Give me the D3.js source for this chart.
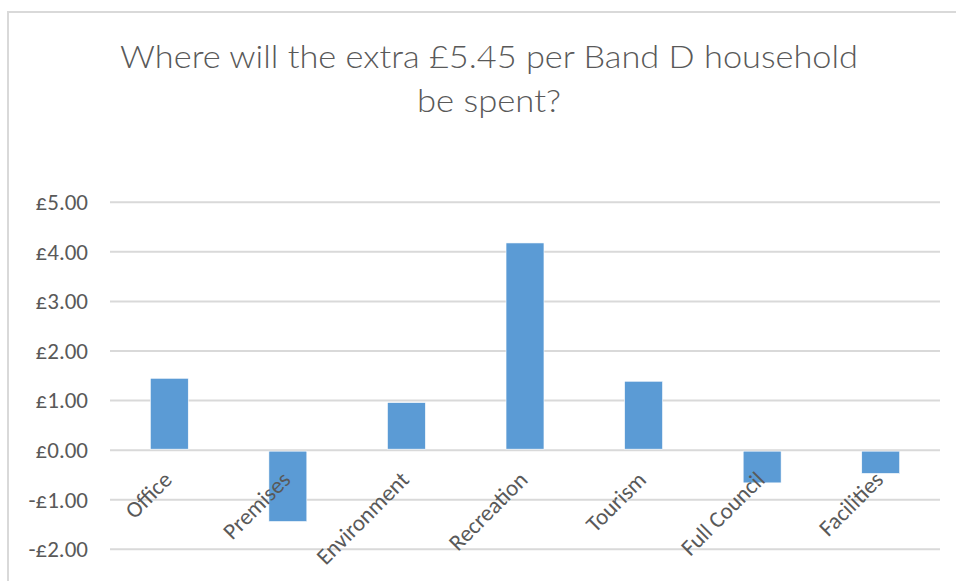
<!DOCTYPE html>
<html>
<head>
<meta charset="utf-8">
<script src="https://cdn.jsdelivr.net/npm/d3@7/dist/d3.min.js"></script>
<style>
  html, body { margin: 0; padding: 0; background: #fff; }
  svg { display: block; }
  text { font-family: Calibri, Carlito, Lato, "Open Sans", sans-serif; fill: #595959; }
  .title { font-family: "Calibri Light", Lato, Carlito, sans-serif; font-weight: 300; }
</style>
</head>
<body>
<script>
const titleLines = ["Where will the extra £5.45 per Band D household", "be spent?"];
const categories = ["Office", "Premises", "Environment", "Recreation", "Tourism", "Full Council", "Facilities"];
const values = [1.45, -1.44, 0.96, 4.18, 1.39, -0.66, -0.47];
const yTicks = [-2, -1, 0, 1, 2, 3, 4, 5];

const W = 956, H = 581;
const svg = d3.select("body").append("svg").attr("width", W).attr("height", H);

// chart border
svg.append("rect")
  .attr("x", 8).attr("y", 12).attr("width", W + 20).attr("height", H + 20)
  .attr("fill", "none").attr("stroke", "#d9d9d9").attr("stroke-width", 2);

// title
const titleY = [68, 112];
const titleW = [738, 144];
titleLines.forEach((t, i) => {
  svg.append("text")
    .attr("class", "title")
    .attr("x", 489).attr("y", titleY[i])
    .attr("text-anchor", "middle")
    .attr("font-size", 32)
    .attr("textLength", titleW[i]).attr("lengthAdjust", "spacingAndGlyphs")
    .text(t);
});

const x = d3.scaleBand().domain(categories).range([110, 940]).paddingInner(0.68).paddingOuter(0.34);
const y = d3.scaleLinear().domain([-2, 5]).range([549.3, 202.3]);

const fmt = v => (v < 0 ? "-£" : "£") + Math.abs(v).toFixed(2);

// y labels via axis
const yAxis = d3.axisLeft(y).tickValues(yTicks).tickFormat(fmt).tickSize(0).tickPadding(22);
const ga = svg.append("g").attr("transform", "translate(110,0)").call(yAxis);
ga.select(".domain").remove();
ga.selectAll("text").attr("font-size", 23).attr("fill", "#595959")
  .style("font-family", 'Calibri, Carlito, Lato, "Open Sans", sans-serif');

// gridlines
svg.append("g").selectAll("line").data(yTicks).join("line")
  .attr("x1", 110).attr("x2", 940)
  .attr("y1", d => y(d)).attr("y2", d => y(d))
  .attr("stroke", "#d9d9d9").attr("stroke-width", 2);

// bars
svg.append("g").selectAll("rect").data(values).join("rect")
  .attr("x", (d, i) => x(categories[i]))
  .attr("width", x.bandwidth())
  .attr("y", d => d >= 0 ? y(d) : y(0) + 1)
  .attr("height", d => d >= 0 ? y(0) - 1 - y(d) : y(d) - y(0) - 1)
  .attr("fill", "#5b9bd5")
  .attr("stroke", "#ffffff").attr("stroke-width", 0.6);

// x labels
svg.append("g").selectAll("text").data(categories).join("text")
  .attr("transform", d => `translate(${x(d) + x.bandwidth() / 2 + 4},${y(0) + 31}) rotate(-45)`)
  .attr("text-anchor", "end")
  .attr("font-size", 23)
  .text(d => d);
</script>
</body>
</html>
